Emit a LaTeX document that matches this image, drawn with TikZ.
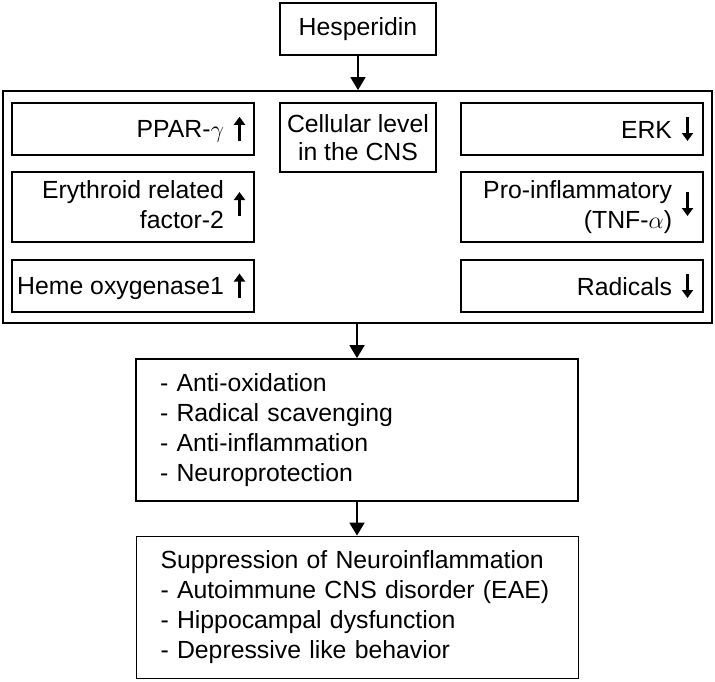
\documentclass[tikz,border=0pt]{standalone}
\usepackage{fontspec}
\setmainfont{Liberation Sans}
\usetikzlibrary{arrows.meta}
\tikzset{
    box/.style={draw, line width=0.9pt, inner sep=0pt},
    sidebox/.style={box, minimum width=121pt},
    listbox/.style={box, text width=197pt, inner xsep=12pt, align=left, minimum height=71pt},
    updown/.style={line width=1.2pt, -{Triangle[width=5.5pt,length=4pt]}}
}
\newcommand{\upmark}[1]{\makebox[112pt][r]{#1\hspace{5pt}\tikz[baseline=0pt]\draw[updown] (0,-1.5pt) -- (0,10.5pt);}}
\newcommand{\downmark}[1]{\makebox[111pt][r]{#1\hspace{5pt}\tikz[baseline=0pt]\draw[updown] (0,10.5pt) -- (0,-1.5pt);}}
\begin{document}
\begin{tikzpicture}[x=0.5pt, y=-0.5pt, font=\fontsize{12.4}{15}\selectfont,
                    >={Triangle[width=7.5pt,length=6.5pt]}]
                \useasboundingbox (0,0) rectangle (715,681);
                \node[box, minimum width=78pt, minimum height=26pt] (hesp) at (358,29) {Hesperidin};
                \node[box, minimum width=354.5pt, minimum height=116pt] (cns) at (357.5,207) {};
                \node[box, minimum width=78pt, minimum height=34.5pt, align=center,
                      font=\fontsize{12.4}{14}\selectfont] (cell) at (358,137.5) {Cellular level\\in the CNS};
                \node[sidebox, minimum height=26pt] (ppar) at (133,129) {\upmark{PPAR-$\gamma$}};
                \node[sidebox, minimum height=35pt] (nrf) at (133,207)
                    {\upmark{\begin{tabular}{@{}r@{}}Erythroid related\\factor-2\end{tabular}}};
                \node[sidebox, minimum height=26pt] (ho) at (133,286) {\upmark{Heme oxygenase1}};
                \node[sidebox, minimum height=26pt] (erk) at (582,129) {\downmark{ERK}};
                \node[sidebox, minimum height=35pt] (tnf) at (582,207)
                    {\downmark{\begin{tabular}{@{}r@{}}Pro-inflammatory\\(TNF-$\alpha$)\end{tabular}}};
                \node[sidebox, minimum height=26pt] (rad) at (582,286) {\downmark{Radicals}};
                \node[listbox] (effect) at (357,430)
                    {- Anti-oxidation\\- Radical scavenging\\- Anti-inflammation\\- Neuroprotection};
                \node[listbox] (supp) at (357.5,607.5)
                    {Suppression of Neuroinflammation\\- Autoimmune CNS disorder (EAE)\\- Hippocampal dysfunction\\- Depressive like behavior};
                \draw[->, line width=0.9pt] (hesp.south) -- (hesp.south |- cns.north);
                \draw[->, line width=0.9pt] (effect.north |- cns.south) -- (effect.north);
                \draw[->, line width=0.9pt] (effect.south) -- (effect.south |- supp.north);
            \end{tikzpicture}
\end{document}
